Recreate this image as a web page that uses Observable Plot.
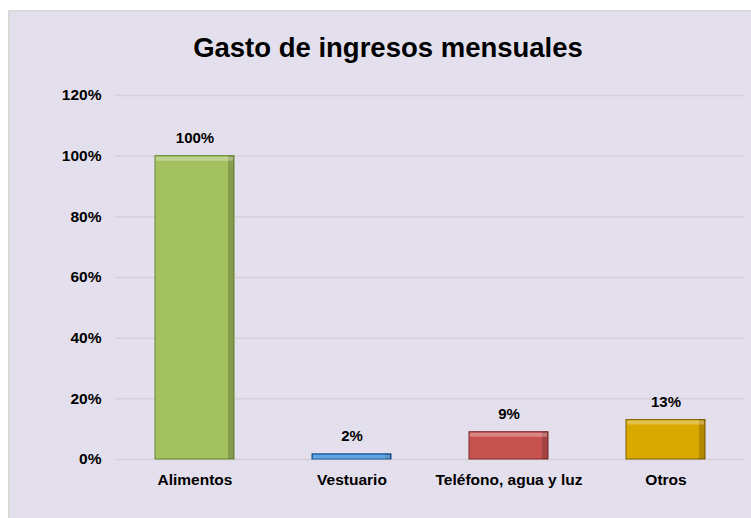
<!DOCTYPE html>
<html>
<head>
<meta charset="utf-8">
<script src="https://cdn.jsdelivr.net/npm/d3@7"></script>
<script src="https://cdn.jsdelivr.net/npm/@observablehq/plot@0.6"></script>
<style>
  html, body { margin: 0; padding: 0; background: #ffffff; }
  body { width: 751px; height: 518px; overflow: hidden; position: relative; font-family: "Liberation Sans", Arial, sans-serif; }
  #frame { position: absolute; left: 8px; top: 10px; width: 743px; height: 508px; background: #e4dfec; border-left: 2px solid #d9d9d9; border-top: 2px solid #d9d9d9; box-sizing: border-box; }
  #title { position: absolute; left: 0; top: 0; width: 756px; height: 72px; line-height: 72px; text-align: center; font-weight: bold; font-size: 27.5px; color: #000; }
  #chart { position: absolute; left: 0; top: 72px; }
</style>
</head>
<body>
<div id="frame">
  <div id="title">Gasto de ingresos mensuales</div>
  <div id="chart"></div>
</div>
<script>
const categories = ["Alimentos", "Vestuario", "Teléfono, agua y luz", "Otros"];
const values = [1.00, 0.017, 0.09, 0.13];
const barColors = ["#a3c15f", "#1f7fd6", "#c65250", "#d9a900"];
const strokeColors = ["#6b8535", "#0f4a86", "#7f2a28", "#7d6000"];
const yTicks = [0, 0.2, 0.4, 0.6, 0.8, 1.0, 1.2];

const data = categories.map((c, i) => ({cat: c, v: values[i], fill: barColors[i], stroke: strokeColors[i]}));
const pct = d3.format(".0%");

const chart = Plot.plot({
  width: 741,
  height: 434,
  marginLeft: 105,
  marginRight: 7,
  marginTop: 11,
  marginBottom: 59,
  style: {background: "transparent", fontFamily: "'Liberation Sans', Arial, sans-serif", fontSize: "15.5px", fontWeight: "bold", color: "#000"},
  x: {domain: categories, paddingInner: 0.5, paddingOuter: 0.25, label: null, tickSize: 0, tickPadding: 14},
  y: {domain: [0, 1.2], ticks: yTicks, tickFormat: pct, label: null, tickSize: 0, tickPadding: 14},
  marks: [
    Plot.gridY(yTicks, {stroke: "#d4d0d8", strokeOpacity: 1, strokeWidth: 1.5}),
    Plot.barY(data, {x: "cat", y: "v", fill: "fill", stroke: "stroke", strokeWidth: 1}),
    Plot.barY(data, {x: "cat", y: "v", fill: "#000", fillOpacity: 0.18, insetLeft: 73}),
    Plot.tickY(data, {x: "cat", y: "v", stroke: "#fff", strokeOpacity: 0.3, strokeWidth: 4, dy: 2.5, inset: 1}),
    Plot.text(data, {x: "cat", y: "v", text: d => pct(d.v), lineAnchor: "bottom", dy: -13, fontSize: 15, fontWeight: "bold", fill: "#000"})
  ]
});
document.getElementById("chart").appendChild(chart);
</script>
</body>
</html>
